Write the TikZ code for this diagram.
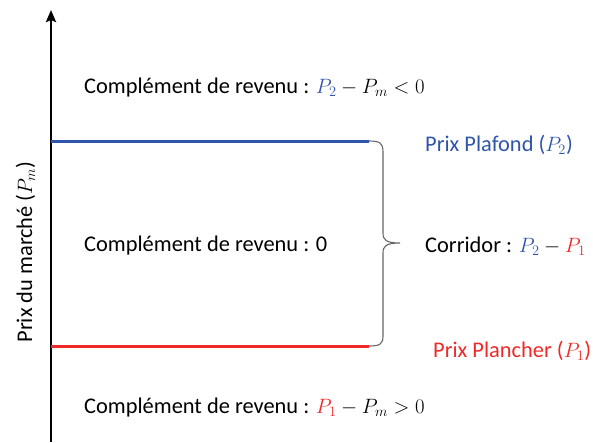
\documentclass[tikz,border=0pt]{standalone}
\usepackage{fontspec}
\setmainfont{Carlito}
\usetikzlibrary{arrows.meta}
\definecolor{pblue}{RGB}{47,85,170}
\definecolor{pred}{RGB}{240,40,40}
\begin{document}
\begin{tikzpicture}[x=1pt,y=-1pt,
  lab/.style={font=\fontsize{22.4}{27}\selectfont, inner sep=0pt, anchor=base west},
  level/.style={line width=3pt}]
\useasboundingbox (0,0) rectangle (593,442);
\coordinate (ax0) at (51,442);
\coordinate (ax1) at (51,10);
\draw[line width=2.5pt,-{Stealth[length=12pt,width=10pt,inset=2pt]}] (ax0) -- (ax1);
\node[rotate=90, font=\fontsize{22.4}{27}\selectfont, inner sep=0pt, anchor=base] (ylab) at (32,252) {Prix du marché ($P_m$)};
\coordinate (b0) at (51,141);
\coordinate (b1) at (369,141);
\coordinate (r0) at (51,346);
\coordinate (r1) at (369,346);
\coordinate (tip) at (400,243);
\draw[level, pblue] (b0) -- (b1);
\draw[level, pred] (r0) -- (r1);
\draw[gray!80!black, line width=1.1pt]
  (b1) .. controls (380,141) and (383,143) .. (383,152) -- (383,233)
  .. controls (383,240) and (386,243) .. (tip)
  .. controls (386,243) and (383,246) .. (383,253) -- (383,336)
  .. controls (383,344) and (380,346) .. (r1);
\node[lab] (t1) at (84,93) {Complément de revenu : \textcolor{pblue}{$P_2$}${}-P_m<0$};
\node[lab] (t2) at (84,251) {Complément de revenu : 0};
\node[lab] (t3) at (84,413) {Complément de revenu : \textcolor{pred}{$P_1$}${}-P_m>0$};
\node[lab, text=pblue] (pp) at (425,151) {Prix Plafond ($P_2$)};
\node[lab] (cor) at (425,252) {Corridor : \textcolor{pblue}{$P_2$}${}-{}$\textcolor{pred}{$P_1$}};
\node[lab, text=pred] (pl) at (433,357) {Prix Plancher ($P_1$)};
\end{tikzpicture}
\end{document}
